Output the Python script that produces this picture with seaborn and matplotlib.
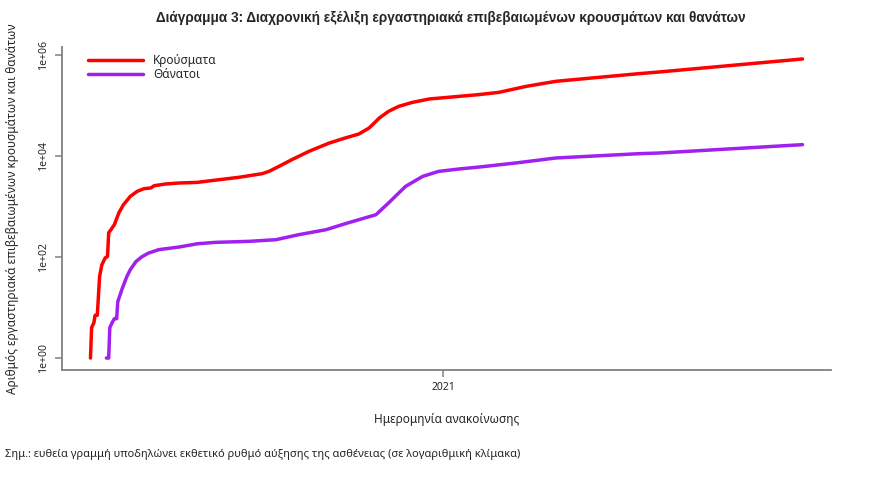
import pandas as pd
import numpy as np
import matplotlib
matplotlib.use("Agg")
import matplotlib.pyplot as plt
from matplotlib.ticker import NullLocator
import seaborn as sns

sns.set_style("white")
plt.rcParams["font.family"] = ["Noto Sans", "DejaVu Sans"]

# Cumulative confirmed cases
case_dates = [
    "2020-02-26", "2020-02-27", "2020-02-29", "2020-03-01", "2020-03-03",
    "2020-03-05", "2020-03-07", "2020-03-10", "2020-03-12", "2020-03-13",
    "2020-03-15", "2020-03-18", "2020-03-22", "2020-03-26", "2020-04-01",
    "2020-04-07", "2020-04-13", "2020-04-19", "2020-04-22", "2020-05-02",
    "2020-05-14", "2020-05-30", "2020-06-06", "2020-07-05", "2020-07-26",
    "2020-08-01", "2020-08-10", "2020-08-21", "2020-09-05", "2020-09-23",
    "2020-10-07", "2020-10-19", "2020-10-28", "2020-11-06", "2020-11-14",
    "2020-11-23", "2020-12-05", "2020-12-20", "2021-01-09", "2021-02-01",
    "2021-02-19", "2021-03-15", "2021-04-10", "2021-05-12", "2021-06-22",
    "2021-07-10", "2021-11-13",
]
case_values = [
    1, 4, 5, 7, 7, 41, 70, 96, 102, 301, 346, 434, 749, 1078, 1574,
    1977, 2238, 2309, 2560, 2767, 2897, 2979, 3120, 3740, 4430, 4920,
    6225, 8370, 12220, 17900, 22500, 27000, 35500, 56000, 75600, 94900,
    113800, 133000, 145600, 161800, 179600, 236000, 296600, 346000,
    420500, 454500, 822000,
]

# Cumulative deaths
death_dates = [
    "2020-03-11", "2020-03-13", "2020-03-14", "2020-03-16", "2020-03-18",
    "2020-03-20", "2020-03-21", "2020-03-25", "2020-03-29", "2020-04-01",
    "2020-04-06", "2020-04-11", "2020-04-17", "2020-04-26", "2020-05-14",
    "2020-05-30", "2020-06-15", "2020-07-14", "2020-08-07", "2020-08-27",
    "2020-09-20", "2020-10-07", "2020-11-03", "2020-11-14", "2020-11-29",
    "2020-12-14", "2020-12-28", "2021-01-15", "2021-02-02", "2021-03-06",
    "2021-04-10", "2021-06-22", "2021-07-10", "2021-11-13",
]
death_values = [
    1, 1, 4, 5, 6, 6, 13, 24, 41, 56, 81, 100, 119, 139, 157, 182, 194,
    203, 219, 275, 345, 454, 684, 1164, 2483, 3910, 4910, 5480, 6000,
    7210, 9040, 11000, 11350, 16600,
]

series_names = ["Κρούσματα", "Θάνατοι"]
series_colors = ["#FF0000", "#A020F0"]

y_ticks = [1, 1e2, 1e4, 1e6]
y_tick_labels = ["1e+00", "1e+02", "1e+04", "1e+06"]
x_ticks = ["2021-01-01"]
x_tick_labels = ["2021"]

df = pd.concat([
    pd.DataFrame({"date": pd.to_datetime(case_dates), "value": case_values,
                  "series": series_names[0]}),
    pd.DataFrame({"date": pd.to_datetime(death_dates), "value": death_values,
                  "series": series_names[1]}),
], ignore_index=True)

fig = plt.figure(figsize=(8.89, 5.04), dpi=100)
ax = fig.add_axes([62 / 889, 1 - 370 / 504, (831 - 62) / 889, (370 - 47) / 504])

sns.lineplot(data=df, x="date", y="value", hue="series", hue_order=series_names,
             palette=series_colors, linewidth=2.5, ax=ax, estimator=None)

ax.set_yscale("log")
ax.margins(x=0.04, y=0.04)

ax.set_yticks(y_ticks)
ax.set_yticklabels(y_tick_labels, rotation=90, va="center")
ax.yaxis.set_minor_locator(NullLocator())
ax.set_xticks(pd.to_datetime(x_ticks))
ax.set_xticklabels(x_tick_labels)
ax.xaxis.set_minor_locator(NullLocator())

ax.tick_params(axis="both", which="major", length=5, width=1.1, color="#808080",
               labelsize=7.5, direction="out", left=True, bottom=True)
ax.tick_params(axis="y", pad=4)
ax.tick_params(axis="x", pad=4)

for side in ["top", "right"]:
    ax.spines[side].set_visible(False)
for side in ["left", "bottom"]:
    ax.spines[side].set_color("#808080")
    ax.spines[side].set_linewidth(1.3)

ax.set_xlabel("Ημερομηνία ανακοίνωσης", fontsize=8.5, labelpad=14)
ax.set_ylabel("Αριθμός εργαστηριακά επιβεβαιωμένων κρουσμάτων και θανάτων",
              fontsize=8.5, labelpad=14)

ax.legend(loc="upper left", bbox_to_anchor=(0.025, 1.0), frameon=False,
          fontsize=8.5, handlelength=4.6, handletextpad=0.9, labelspacing=0.1,
          borderaxespad=0.2)

fig.text(451 / 889, 1 - 18 / 504,
         "Διάγραμμα 3: Διαχρονική εξέλιξη εργαστηριακά επιβεβαιωμένων κρουσμάτων και θανάτων",
         ha="center", va="center", fontsize=9.8, fontweight="bold",
         family=["Liberation Sans", "DejaVu Sans"])

fig.text(5 / 889, 1 - 455 / 504,
         "Σημ.: ευθεία γραμμή υποδηλώνει εκθετικό ρυθμό αύξησης της ασθένειας (σε λογαριθμική κλίμακα)",
         ha="left", va="center", fontsize=8)

fig.savefig("out.png", dpi=100)
